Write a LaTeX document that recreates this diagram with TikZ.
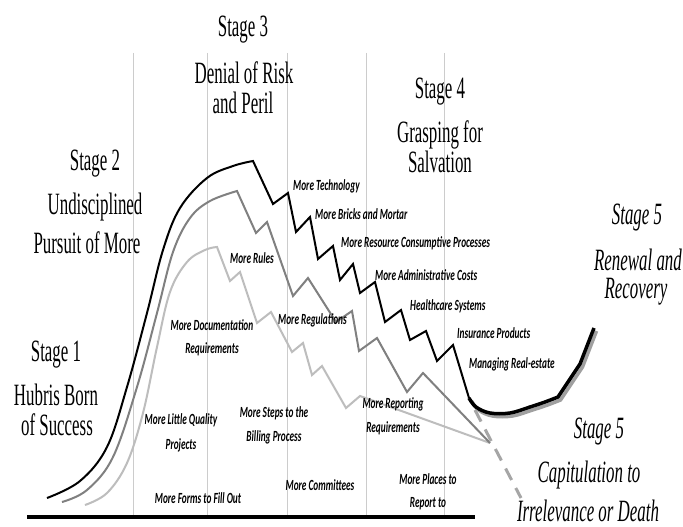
\documentclass[tikz,border=0pt]{standalone}
\usepackage{fontspec}
\newfontfamily\stagefont[FakeStretch=0.545]{Liberation Serif}
\newfontfamily\labfont[FakeStretch=0.6]{Carlito}
\definecolor{midgray}{HTML}{808080}
\definecolor{ltgray}{HTML}{BDBDBD}
\definecolor{vgray}{HTML}{CCCCCC}
\definecolor{dashgray}{HTML}{A6A6A6}
\definecolor{shadowgray}{HTML}{A0A0A0}
\begin{document}
\begin{tikzpicture}[x=1pt,y=-1pt,
  stagetext/.style={font=\stagefont\fontsize{31}{34}\selectfont, inner sep=0pt},
  stageit/.style={font=\stagefont\itshape\fontsize{31}{34}\selectfont, inner sep=0pt},
  lab/.style={font=\labfont\bfseries\itshape\fontsize{15.5}{17}\selectfont, inner sep=0pt},
  vline/.style={draw=vgray, line width=0.8pt},
  curveblack/.style={draw=black, line width=2pt, line join=miter},
  curvemid/.style={draw=midgray, line width=2pt, line join=miter},
  curvelt/.style={draw=ltgray, line width=2pt, line join=miter}]
\useasboundingbox (0,0) rectangle (683,527);
\fill[white] (0,0) rectangle (683,527);

% vertical guide lines
\foreach \vx/\nm in {133/v1,207/v2,287/v3,366/v4,444/v5}{
  \coordinate (\nm t) at (\vx,53);
  \coordinate (\nm b) at (\vx,516);
  \draw[vline] (\nm t) -- (\nm b);
}

% baseline
\coordinate (bl) at (27,516.5);
\coordinate (br) at (475,516.5);
\draw[line width=4pt] (bl) -- (br);

% light gray curve
\draw[curvelt] plot[smooth, tension=0.6] coordinates {(85,505) (107,493) (127,463) (143,413) (157,347) (170,292) (187,262) (205,250) (217,247)}
  -- (230,281) -- (240,272) -- (257,323) -- (271,312) -- (292,352) -- (303,343) -- (312,375) -- (322,366) -- (346,408) -- (360,396) -- (490,443);

% mid gray curve
\draw[curvemid] plot[smooth, tension=0.6] coordinates {(62,502) (87,490) (113,457) (137,387) (157,313) (173,252) (190,218) (210,201) (237,191)}
  -- (256,233) -- (267,222) -- (293,296) -- (308,278) -- (336,322) -- (352,311) -- (359,351) -- (377,338) -- (407,392) -- (423,373) -- (490,443);

% black curve
\draw[curveblack] plot[smooth, tension=0.6] coordinates {(47,498) (80,481) (107,447) (127,387) (147,313) (163,250) (180,208) (207,178) (233,166) (253,161)}
  -- (273,204) -- (288,193) -- (296,232) -- (310,217) -- (318,259) -- (333,246) -- (340,280) -- (353,264) -- (360,293) -- (375,282) -- (385,322) -- (401,310) -- (410,340) -- (426,331) -- (437,361) -- (453,345) -- (469,398);

% dashed decline
\coordinate (dashA) at (475,410);
\coordinate (dashB) at (521,498);
\draw[dashgray, line width=3pt, dash pattern=on 13pt off 9pt] (dashA) -- (dashB);

% renewal curve with shadow
\draw[shadowgray, line width=3.5pt, shift={(2.5,3)}] plot[smooth, tension=0.6] coordinates {(469,398) (476,407) (490,413) (510,413) (530,407) (545,402) (558,397)} -- (580,364) -- (594,328);
\draw[black, line width=3.5pt] plot[smooth, tension=0.6] coordinates {(469,398) (476,407) (490,413) (510,413) (530,407) (545,402) (558,397)} -- (580,364) -- (594,328);

% stage labels
\node[stagetext] (s3a) at (243,30) {Stage 3};
\node[stagetext] (s3b) at (244,73) {Denial of Risk};
\node[stagetext] (s3c) at (243,103) {and Peril};

\node[stagetext] (s2a) at (95,164) {Stage 2};
\node[stagetext] (s2b) at (95,207) {Undisciplined};
\node[stagetext] (s2c) at (87,243) {Pursuit of More};

\node[stagetext] (s1a) at (56,355) {Stage 1};
\node[stagetext] (s1b) at (56,395) {Hubris Born};
\node[stagetext] (s1c) at (57,425) {of Success};

\node[stagetext] (s4a) at (440,92) {Stage 4};
\node[stagetext] (s4b) at (440,135) {Grasping for};
\node[stagetext] (s4c) at (440,162) {Salvation};

\node[stageit] (s5a) at (637,218) {Stage 5};
\node[stageit] (s5b) at (638,260) {Renewal and};
\node[stageit] (s5c) at (636,292) {Recovery};

\node[stageit] (s6a) at (599,432) {Stage 5};
\node[stageit] (s6b) at (589,475) {Capitulation to};
\node[stageit] (s6c) at (588,511) {Irrelevance or Death};

% small labels
\node[lab, anchor=west] (l1) at (293,186) {More Technology};
\node[lab, anchor=west] (l2) at (315,214) {More Bricks and Mortar};
\node[lab, anchor=west] (l3) at (341,243) {More Resource Consumptive Processes};
\node[lab, anchor=west] (l4) at (375,275) {More Administrative Costs};
\node[lab, anchor=west] (l5) at (410,306) {Healthcare Systems};
\node[lab, anchor=west] (l6) at (457,333) {Insurance Products};
\node[lab, anchor=west] (l7) at (469,364) {Managing Real-estate};
\node[lab, anchor=west] (l8) at (230,258) {More Rules};
\node[lab, anchor=west] (l9) at (278,320) {More Regulations};
\node[lab] (l10) at (212,325) {More Documentation};
\node[lab] (l11) at (212,349) {Requirements};
\node[lab] (l12) at (181,420) {More Little Quality};
\node[lab] (l13) at (181,445) {Projects};
\node[lab] (l14) at (198,498) {More Forms to Fill Out};
\node[lab] (l15) at (274,413) {More Steps to the};
\node[lab] (l16) at (274,437) {Billing Process};
\node[lab] (l17) at (320,485) {More Committees};
\node[lab] (l18) at (393,404) {More Reporting};
\node[lab] (l19) at (393,428) {Requirements};
\node[lab] (l20) at (428,479) {More Places to};
\node[lab] (l21) at (428,504) {Report to};
\end{tikzpicture}
\end{document}
